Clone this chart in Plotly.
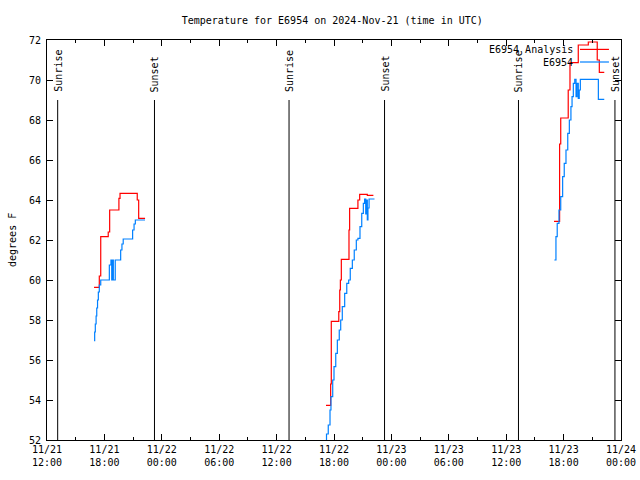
import plotly.graph_objects as go

# ---------------- data ----------------
analysis_times = [
    "2024-11-21 16:55", "2024-11-21 17:28", "2024-11-21 17:37", "2024-11-21 18:24", "2024-11-21 18:33",
    "2024-11-21 19:31", "2024-11-21 19:38", "2024-11-21 21:26", "2024-11-21 21:35", "2024-11-21 22:15",
    None,
    "2024-11-22 17:10", "2024-11-22 17:39", "2024-11-22 17:43", "2024-11-22 18:30", "2024-11-22 18:36",
    "2024-11-22 18:40", "2024-11-22 18:46", "2024-11-22 19:34", "2024-11-22 19:38", "2024-11-22 20:30",
    "2024-11-22 20:41", "2024-11-22 21:29", "2024-11-22 22:07",
    None,
    "2024-11-23 17:00", "2024-11-23 17:35", "2024-11-23 17:42", "2024-11-23 18:29", "2024-11-23 18:40",
    "2024-11-23 19:32", "2024-11-23 20:35", "2024-11-23 21:31", "2024-11-23 21:44", "2024-11-23 22:15",
]
analysis_values = [
    59.63, 60.2, 62.17, 62.4, 63.5,
    64.08, 64.33, 64.0, 63.08, 63.08,
    None,
    53.73, 54.8, 57.93, 58.42, 59.5,
    60.0, 61.03, 62.5, 63.58, 64.0,
    64.28, 64.23, 64.23,
    None,
    62.93, 66.8, 68.1, 69.5, 70.87,
    71.75, 71.9, 71.0, 70.38, 70.38,
]

obs_times = [
    "2024-11-21 16:55", "2024-11-21 16:59", "2024-11-21 17:03", "2024-11-21 17:08", "2024-11-21 17:12",
    "2024-11-21 17:17", "2024-11-21 17:22", "2024-11-21 17:28", "2024-11-21 17:37", "2024-11-21 18:31",
    "2024-11-21 18:41", "2024-11-21 18:46", "2024-11-21 18:52", "2024-11-21 18:56", "2024-11-21 19:08",
    "2024-11-21 19:42", "2024-11-21 19:50", "2024-11-21 19:58", "2024-11-21 20:57", "2024-11-21 21:06",
    "2024-11-21 21:14", "2024-11-21 22:15",
    None,
    "2024-11-22 17:03", "2024-11-22 17:13", "2024-11-22 17:24", "2024-11-22 17:35", "2024-11-22 17:41",
    "2024-11-22 17:52", "2024-11-22 18:00", "2024-11-22 18:11", "2024-11-22 18:21", "2024-11-22 18:33",
    "2024-11-22 18:42", "2024-11-22 18:52", "2024-11-22 19:07", "2024-11-22 19:20", "2024-11-22 19:32",
    "2024-11-22 19:42", "2024-11-22 19:55", "2024-11-22 20:07", "2024-11-22 20:20", "2024-11-22 20:30",
    "2024-11-22 20:43", "2024-11-22 20:54", "2024-11-22 21:04", "2024-11-22 21:12", "2024-11-22 21:19",
    "2024-11-22 21:22", "2024-11-22 21:29", "2024-11-22 21:33", "2024-11-22 21:40", "2024-11-22 22:14",
    None,
    "2024-11-23 17:02", "2024-11-23 17:12", "2024-11-23 17:20", "2024-11-23 17:31", "2024-11-23 17:42",
    "2024-11-23 17:54", "2024-11-23 18:04", "2024-11-23 18:15", "2024-11-23 18:26", "2024-11-23 18:36",
    "2024-11-23 18:46", "2024-11-23 18:53", "2024-11-23 19:01", "2024-11-23 19:10", "2024-11-23 19:18",
    "2024-11-23 19:24", "2024-11-23 19:32", "2024-11-23 19:38", "2024-11-23 19:45", "2024-11-23 21:38",
    "2024-11-23 22:15",
]
obs_values = [
    56.97, 57.4, 57.8, 58.2, 58.6,
    59.0, 59.4, 59.75, 60.0, 60.75,
    61.0, 60.0, 61.0, 60.0, 61.0,
    61.5, 61.8, 62.05, 62.5, 62.8,
    63.0, 63.0,
    None,
    51.8, 52.3, 52.75, 53.5, 54.17,
    55.0, 55.67, 56.33, 57.0, 57.5,
    58.0, 58.67, 59.33, 59.83, 60.0,
    60.58, 61.0, 61.5, 62.0, 62.08,
    62.67, 63.33, 63.83, 64.05, 63.3,
    64.0, 63.0, 63.6, 64.05, 64.05,
    None,
    61.0, 62.17, 62.83, 63.5, 64.17,
    65.17, 65.83, 66.5, 67.33, 68.0,
    68.67, 69.17, 69.83, 70.03, 69.17,
    69.83, 69.08, 69.5, 70.03, 69.03,
    69.03,
]

sun_events = ["Sunrise", "Sunset", "Sunrise", "Sunset", "Sunrise", "Sunset"]
sun_times = ["2024-11-21 13:07", "2024-11-21 23:14", "2024-11-22 13:18",
             "2024-11-22 23:17", "2024-11-23 13:17", "2024-11-23 23:22"]

x_tick_vals = ["2024-11-21 12:00", "2024-11-21 18:00", "2024-11-22 00:00", "2024-11-22 06:00",
               "2024-11-22 12:00", "2024-11-22 18:00", "2024-11-23 00:00", "2024-11-23 06:00",
               "2024-11-23 12:00", "2024-11-23 18:00", "2024-11-24 00:00"]
x_tick_text = ["11/21<br>12:00", "11/21<br>18:00", "11/22<br>00:00", "11/22<br>06:00",
               "11/22<br>12:00", "11/22<br>18:00", "11/23<br>00:00", "11/23<br>06:00",
               "11/23<br>12:00", "11/23<br>18:00", "11/24<br>00:00"]
y_tick_vals = [52, 54, 56, 58, 60, 62, 64, 66, 68, 70, 72]

series_names = ["E6954 Analysis", "E6954"]
series_colors = ["#ff0000", "#0080ff"]

# ---------------- figure ----------------
FONT = "DejaVu Sans Mono"
fig = go.Figure()
fig.add_trace(go.Scatter(x=analysis_times, y=analysis_values, mode="lines",
                         line=dict(color=series_colors[0], width=1.2, shape="hv"),
                         connectgaps=False, name=series_names[0], showlegend=False))
fig.add_trace(go.Scatter(x=obs_times, y=obs_values, mode="lines",
                         line=dict(color=series_colors[1], width=1.2, shape="hv"),
                         connectgaps=False, name=series_names[1], showlegend=False))

shapes = []
annotations = []
for ev, t in zip(sun_events, sun_times):
    shapes.append(dict(type="line", xref="x", yref="y", x0=t, x1=t, y0=52, y1=69.0,
                       line=dict(color="black", width=1)))
    annotations.append(dict(x=t, y=69.3, xref="x", yref="y", text=ev, textangle=-90,
                            showarrow=False, xanchor="center", yanchor="bottom",
                            font=dict(family=FONT, size=10, color="black")))

# manual gnuplot-style key (text left, sample right)
key_rows = [0.9765, 0.945]
for name, col, yy in zip(series_names, series_colors, key_rows):
    annotations.append(dict(x=0.92, y=yy, xref="paper", yref="paper", text=name,
                            showarrow=False, xanchor="right", yanchor="middle",
                            font=dict(family=FONT, size=10, color="black")))
    shapes.append(dict(type="line", xref="paper", yref="paper", x0=0.9286, x1=0.979,
                       y0=yy, y1=yy, line=dict(color=col, width=1.2)))

annotations.append(dict(x=-0.061, y=0.5, xref="paper", yref="paper", text="degrees F",
                        textangle=-90, showarrow=False, xanchor="center", yanchor="middle",
                        font=dict(family=FONT, size=10, color="black")))

fig.update_layout(
    width=640, height=480, autosize=False,
    margin=dict(l=47, r=19, t=40, b=40, autoexpand=False),
    paper_bgcolor="white", plot_bgcolor="white",
    title=dict(text="Temperature for E6954 on 2024-Nov-21 (time in UTC)", xref="paper", x=0.497,
               xanchor="center", y=1 - 20 / 480, yanchor="middle",
               font=dict(family=FONT, size=10, color="black")),
    font=dict(family=FONT, size=10, color="black"),
    shapes=shapes, annotations=annotations, showlegend=False,
)
fig.update_xaxes(type="date", range=["2024-11-21 12:00", "2024-11-24 00:00"], automargin=False,
                 tickvals=x_tick_vals, ticktext=x_tick_text, ticks="inside", ticklen=6,
                 tickcolor="black", showline=True, linecolor="black", linewidth=1, mirror="ticks",
                 showgrid=False, zeroline=False,
                 tickfont=dict(family=FONT, size=10, color="black"),
                 minor=dict(ticks="inside", ticklen=3, tickcolor="black",
                            tick0="2024-11-21 12:00", dtick=3 * 3600 * 1000, showgrid=False))
fig.update_yaxes(range=[52, 72], tickvals=y_tick_vals, ticks="inside", ticklen=6, automargin=False,
                 tickcolor="black", showline=True, linecolor="black", linewidth=1, mirror="ticks",
                 showgrid=False, zeroline=False, ticklabelstandoff=3,
                 tickfont=dict(family=FONT, size=10, color="black"))

fig.write_html("out.html")
